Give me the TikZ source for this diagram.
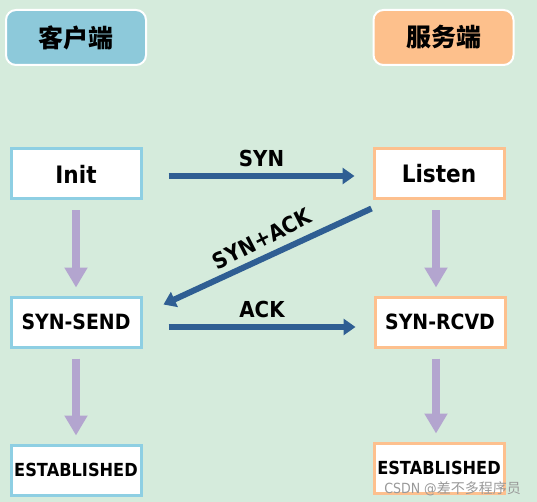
\documentclass[tikz,border=0pt]{standalone}
\usepackage{fontspec}
\setmainfont{DejaVu Sans}[FakeStretch=0.9]
\newfontfamily\cjk{Noto Sans CJK SC}
\usetikzlibrary{arrows.meta,calc}
\definecolor{bg}{HTML}{D5EBDC}
\definecolor{cblue}{HTML}{8DC9DA}
\definecolor{corange}{HTML}{FDC08C}
\definecolor{bblue}{HTML}{8ECFE3}
\definecolor{border}{HTML}{FDC08E}
\definecolor{arrblue}{HTML}{2F5E93}
\definecolor{arrpurple}{HTML}{B3A5CF}
\tikzset{
  header/.style={draw=white,line width=2pt,rounded corners=10pt,minimum width=140pt,minimum height=55pt,font=\cjk\bfseries\fontsize{25}{27}\selectfont},
  state/.style={fill=white,line width=3pt,minimum width=130pt,minimum height=50pt,inner sep=0pt},
  cstate/.style={state,draw=bblue},
  sstate/.style={state,draw=border},
  big/.style={font=\bfseries\fontsize{24}{26}\selectfont},
  mid/.style={font=\bfseries\fontsize{21}{24}\selectfont},
  small/.style={font=\bfseries\fontsize{18}{20}\selectfont},
  down/.style={arrpurple,line width=8pt,-{Triangle[width=22pt,length=20pt]},shorten <=10pt,shorten >=8pt},
  msg/.style={arrblue,line width=6pt,-{Triangle[width=16pt,length=12pt]}},
  lbl/.style={font=\bfseries\fontsize{22}{24}\selectfont}
}
\begin{document}
\begin{tikzpicture}[x=1pt,y=-1pt]
\fill[bg] (0,0) rectangle (537,502);
\useasboundingbox (0,0) rectangle (537,502);
\node[header,fill=cblue] (ch) at (76,37.5) {客户端};
\node[header,fill=corange] (sh) at (443.5,37.5) {服务端};
\node[cstate,big] (init) at (76,174) {Init};
\node[sstate,big] (listen) at (439,174) {Listen};
\node[cstate,mid] (send) at (76,322) {SYN-SEND};
\node[sstate,mid] (rcvd) at (440,322) {SYN-RCVD};
\node[cstate,small] (estl) at (76,470) {ESTABLISHED};
\node[sstate,small] (estr) at (439,468) {ESTABLISHED};
\draw[down] (init) -- (send);
\draw[down] (send) -- (estl);
\draw[down] (listen.south -| 436,0) -- (rcvd.north -| 436,0);
\draw[down] (rcvd.south -| 436,0) -- (estr.north -| 436,0);
\draw[msg] ($(init.east)+(26,2)$) -- ($(listen.west)+(-18,2)$) node[midway,above=3pt,lbl,black] (syn) {SYN};
\draw[msg] ($(send.east)+(26,5)$) -- ($(rcvd.west)+(-18,5)$) node[midway,above=3pt,lbl,black] (ack) {ACK};
\draw[msg] ($(listen.south west)+(-1,8)$) -- ($(send.north east)+(21,9)$);
\node[lbl,rotate=27,inner sep=0pt] (synack) at (262,239) {SYN+ACK};
\node[text=gray!80,font=\fontsize{14}{16}\selectfont,anchor=east,inner sep=0pt] (wm) at (521,489) {CSDN @\cjk 差不多程序员};
\end{tikzpicture}
\end{document}
